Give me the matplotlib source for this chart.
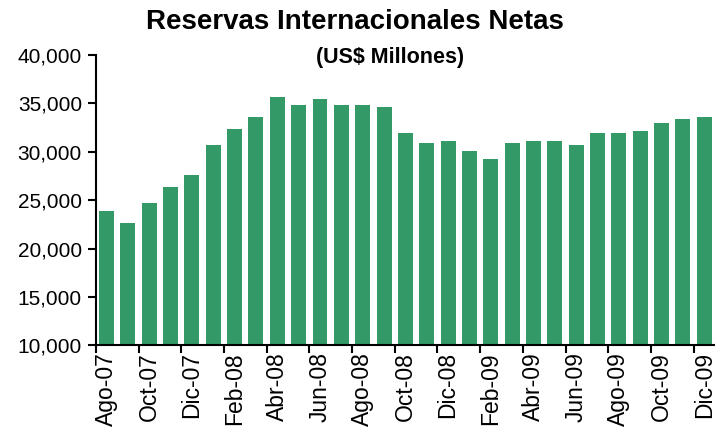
import matplotlib.pyplot as plt
from matplotlib.ticker import FuncFormatter

plt.rcParams['font.family'] = ['Liberation Sans', 'DejaVu Sans']

# Reservas internacionales netas, Ago-07 a Dic-09 (US$ millones)
meses = ['Ago-07', 'Sep-07', 'Oct-07', 'Nov-07', 'Dic-07',
         'Ene-08', 'Feb-08', 'Mar-08', 'Abr-08', 'May-08', 'Jun-08', 'Jul-08',
         'Ago-08', 'Sep-08', 'Oct-08', 'Nov-08', 'Dic-08',
         'Ene-09', 'Feb-09', 'Mar-09', 'Abr-09', 'May-09', 'Jun-09', 'Jul-09',
         'Ago-09', 'Sep-09', 'Oct-09', 'Nov-09', 'Dic-09']
reservas = [23860, 22620, 24690, 26340, 27590,
            30690, 32340, 33590, 35660, 34830, 35450, 34830,
            34830, 34620, 31930, 30900, 31100,
            30070, 29240, 30900, 31100, 31100, 30690, 31930,
            31930, 32140, 32970, 33380, 33590]

fig = plt.figure(figsize=(7.15, 4.37), dpi=100)
ax = fig.add_axes([0.134, 0.21, 0.866, 0.664])

x = range(len(meses))
ax.bar(x, reservas, width=0.7, color='#339966')

ax.set_ylim(10000, 40000)
ax.set_yticks(range(10000, 40001, 5000))
ax.yaxis.set_major_formatter(FuncFormatter(lambda v, p: f'{int(v):,}'))
ax.set_xlim(-0.5, len(meses) - 0.5)

# etiquetas cada dos meses, marcas entre categorias
ax.set_xticks([i - 0.5 for i in range(0, len(meses), 2)])
ax.set_xticklabels([])
ax.set_xticks(list(range(0, len(meses), 2)), minor=True)
ax.set_xticklabels(meses[::2], minor=True, rotation=90, fontsize=16.5)
ax.tick_params(axis='x', which='minor', length=0, pad=5)
ax.tick_params(axis='x', which='major', length=6, width=1.5, direction='out')
ax.tick_params(axis='y', length=6, width=1.5, labelsize=15, pad=4)

for s in ['top', 'right']:
    ax.spines[s].set_visible(False)
for s in ['left', 'bottom']:
    ax.spines[s].set_linewidth(1.5)

fig.text(0.497, 0.95, 'Reservas Internacionales Netas', ha='center', va='center',
         fontsize=20, fontweight='bold')
fig.text(0.545, 0.868, '(US$ Millones)', ha='center', va='center',
         fontsize=15.5, fontweight='bold')

fig.savefig('out.png', dpi=100)
